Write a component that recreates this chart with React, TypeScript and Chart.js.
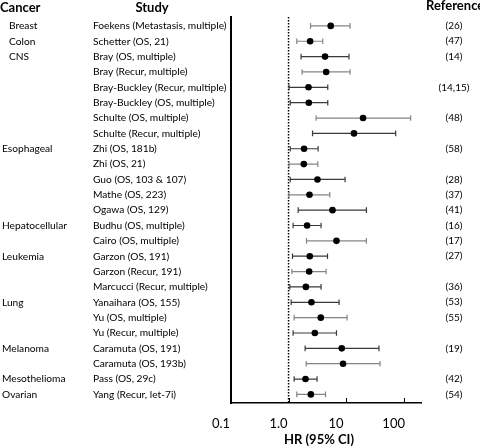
import React, { useEffect, useRef } from "react";
import { Chart, registerables } from "chart.js";

Chart.register(...registerables);

const cancers = [
  "Breast", "Colon", "CNS", "", "", "", "", "",
  "Esophageal", "", "", "", "",
  "Hepatocellular", "",
  "Leukemia", "", "",
  "Lung", "", "",
  "Melanoma", "",
  "Mesothelioma",
  "Ovarian",
];

const studies = [
  "Foekens (Metastasis, multiple)",
  "Schetter (OS, 21)",
  "Bray (OS, multiple)",
  "Bray (Recur, multiple)",
  "Bray-Buckley (Recur, multiple)",
  "Bray-Buckley (OS, multiple)",
  "Schulte (OS, multiple)",
  "Schulte (Recur, multiple)",
  "Zhi (OS, 181b)",
  "Zhi (OS, 21)",
  "Guo (OS, 103 & 107)",
  "Mathe (OS, 223)",
  "Ogawa (OS, 129)",
  "Budhu (OS, multiple)",
  "Cairo (OS, multiple)",
  "Garzon (OS, 191)",
  "Garzon (Recur, 191)",
  "Marcucci (Recur, multiple)",
  "Yanaihara (OS, 155)",
  "Yu (OS, multiple)",
  "Yu (Recur, multiple)",
  "Caramuta (OS, 191)",
  "Caramuta (OS, 193b)",
  "Pass (OS, 29c)",
  "Yang (Recur, let-7i)",
];

const references = [
  "(26)", "(47)", "(14)", "", "(14,15)", "", "(48)", "",
  "(58)", "", "(28)", "(37)", "(41)",
  "(16)", "(17)",
  "(27)", "", "(36)",
  "(53)", "(55)", "",
  "(19)", "",
  "(42)",
  "(54)",
];

const hazardRatio = [
  5.4, 2.37, 4.3, 4.5, 2.22, 2.25, 19.7, 13.7,
  1.86, 1.84, 3.18, 2.31, 5.8,
  2.1, 6.8,
  2.34, 2.28, 2.0,
  2.5, 3.63, 2.86,
  8.4, 8.85,
  1.97,
  2.44,
];

const ciLow = [
  2.41, 1.39, 1.65, 1.72, 1.02, 1.07, 3.01, 2.61,
  1.07, 1.02, 1.07, 1.02, 1.47,
  1.2, 2.05,
  1.17, 1.14, 1.05,
  1.11, 1.25, 1.2,
  1.94, 2.02,
  1.25,
  1.39,
];

const ciHigh = [
  11.7, 3.93, 11.2, 11.7, 4.8, 4.8, 132, 72.6,
  3.26, 3.22, 9.59, 5.2, 22.5,
  3.67, 22.5,
  4.75, 4.49, 3.67,
  7.54, 10.4, 6.8,
  37.2, 38.8,
  3.13,
  4.38,
];

const xTickValues = [0.1, 1, 10, 100];
const xTickLabels = ["0.1", "1.0", "10", "100"];

// style: which whiskers are drawn in the lighter grey
const lightWhisker = [
  true, true, false, true, false, false, true, false,
  false, true, false, true, false,
  false, true,
  false, true, false,
  false, true, false,
  false, true,
  false,
  true,
];

const FONT = "Lato, 'Noto Sans', sans-serif";

const forestPlugin = {
  id: "forest",
  beforeDatasetsDraw(chart: any) {
    const { ctx, chartArea, scales } = chart;
    const x = scales.x;
    const y = scales.y;
    ctx.save();
    // reference line at HR = 1
    const x1 = x.getPixelForValue(1);
    ctx.strokeStyle = "#000";
    ctx.lineWidth = 1.5;
    ctx.setLineDash([1.5, 1.5]);
    ctx.beginPath();
    ctx.moveTo(x1, chartArea.top);
    ctx.lineTo(x1, chartArea.bottom);
    ctx.stroke();
    ctx.setLineDash([]);
    // whiskers
    hazardRatio.forEach((_, i) => {
      const py = y.getPixelForValue(i);
      const xl = x.getPixelForValue(ciLow[i]);
      const xh = x.getPixelForValue(ciHigh[i]);
      ctx.strokeStyle = lightWhisker[i] ? "#858585" : "#3a3a3a";
      ctx.lineWidth = 1.2;
      ctx.beginPath();
      ctx.moveTo(xl, py);
      ctx.lineTo(xh, py);
      ctx.moveTo(xl, py - 2.8);
      ctx.lineTo(xl, py + 2.8);
      ctx.moveTo(xh, py - 2.8);
      ctx.lineTo(xh, py + 2.8);
      ctx.stroke();
    });
    ctx.restore();
  },
  afterDraw(chart: any) {
    const { ctx, chartArea, scales } = chart;
    const x = scales.x;
    const y = scales.y;
    ctx.save();
    // axis tick marks
    ctx.strokeStyle = "#000";
    ctx.lineWidth = 1;
    x.ticks.forEach((t: any) => {
      const v = t.value;
      const lg = Math.log10(v);
      const major = Math.abs(lg - Math.round(lg)) < 1e-6;
      const px = Math.round(x.getPixelForValue(v)) + 0.5;
      ctx.beginPath();
      ctx.moveTo(px, chartArea.bottom - (major ? 5 : 3));
      ctx.lineTo(px, chartArea.bottom);
      ctx.stroke();
    });

    ctx.fillStyle = "#000";
    // headers
    ctx.font = `bold 13px ${FONT}`;
    ctx.textBaseline = "middle";
    ctx.textAlign = "left";
    ctx.fillText("Cancer", 0, 8);
    ctx.textAlign = "center";
    ctx.fillText("Study", 152, 8);
    ctx.textAlign = "left";
    ctx.fillText("Reference", 426, 6);

    // row texts
    studies.forEach((s, i) => {
      const py = y.getPixelForValue(i);
      ctx.font = `10.2px ${FONT}`;
      ctx.textAlign = "left";
      if (cancers[i]) ctx.fillText(cancers[i], i < 8 ? 9 : 2, py);
      ctx.fillText(s, 93, py);
      if (references[i]) {
        ctx.font = `10px ${FONT}`;
        ctx.textAlign = "center";
        ctx.fillText(references[i], 454, py);
      }
    });

    // axis title
    ctx.font = `bold 13px ${FONT}`;
    ctx.textAlign = "center";
    ctx.fillText("HR (95% CI)", 319, 440);
    ctx.restore();
  },
};

export default function App() {
  const canvasRef = useRef<HTMLCanvasElement | null>(null);

  useEffect(() => {
    const canvas = canvasRef.current;
    if (!canvas) return;
    const chart = new Chart(canvas, {
      type: "scatter",
      data: {
        datasets: [
          {
            data: hazardRatio.map((v, i) => ({ x: v, y: i })),
            pointRadius: 3.3,
            pointBackgroundColor: "#000",
            pointBorderWidth: 0,
            pointHoverRadius: 3.3,
          },
        ],
      },
      options: {
        responsive: false,
        animation: false,
        events: [],
        layout: { padding: { left: 231, right: 59, top: 17, bottom: 0 } },
        plugins: {
          legend: { display: false },
          tooltip: { enabled: false },
        },
        scales: {
          x: {
            type: "logarithmic",
            min: 0.1,
            max: 200,
            position: "bottom",
            border: { display: true, color: "#000", width: 1.5 },
            grid: { display: false, drawTicks: false },
            ticks: {
              autoSkip: false,
              maxRotation: 0,
              padding: 13,
              labelOffset: -10,
              color: "#000",
              font: { family: FONT, size: 13 },
              callback: (value: any) => {
                const idx = xTickValues.findIndex(
                  (t) => Math.abs(Number(value) - t) < t * 1e-6
                );
                return idx >= 0 ? xTickLabels[idx] : null;
              },
            },
            afterFit: (scale: any) => {
              scale.height = 44;
            },
          },
          y: {
            type: "linear",
            reverse: true,
            min: -0.58,
            max: 24.56,
            border: { display: true, color: "#000", width: 2 },
            grid: { display: false, drawTicks: false },
            ticks: { display: false },
            afterFit: (scale: any) => {
              scale.width = 0;
            },
          },
        },
      },
      plugins: [forestPlugin],
    } as any);
    return () => chart.destroy();
  }, []);

  return (
    <div style={{ position: "absolute", left: 0, top: 0, width: 480, height: 447, background: "#fff" }}>
      <canvas ref={canvasRef} width={480} height={447} />
    </div>
  );
}
